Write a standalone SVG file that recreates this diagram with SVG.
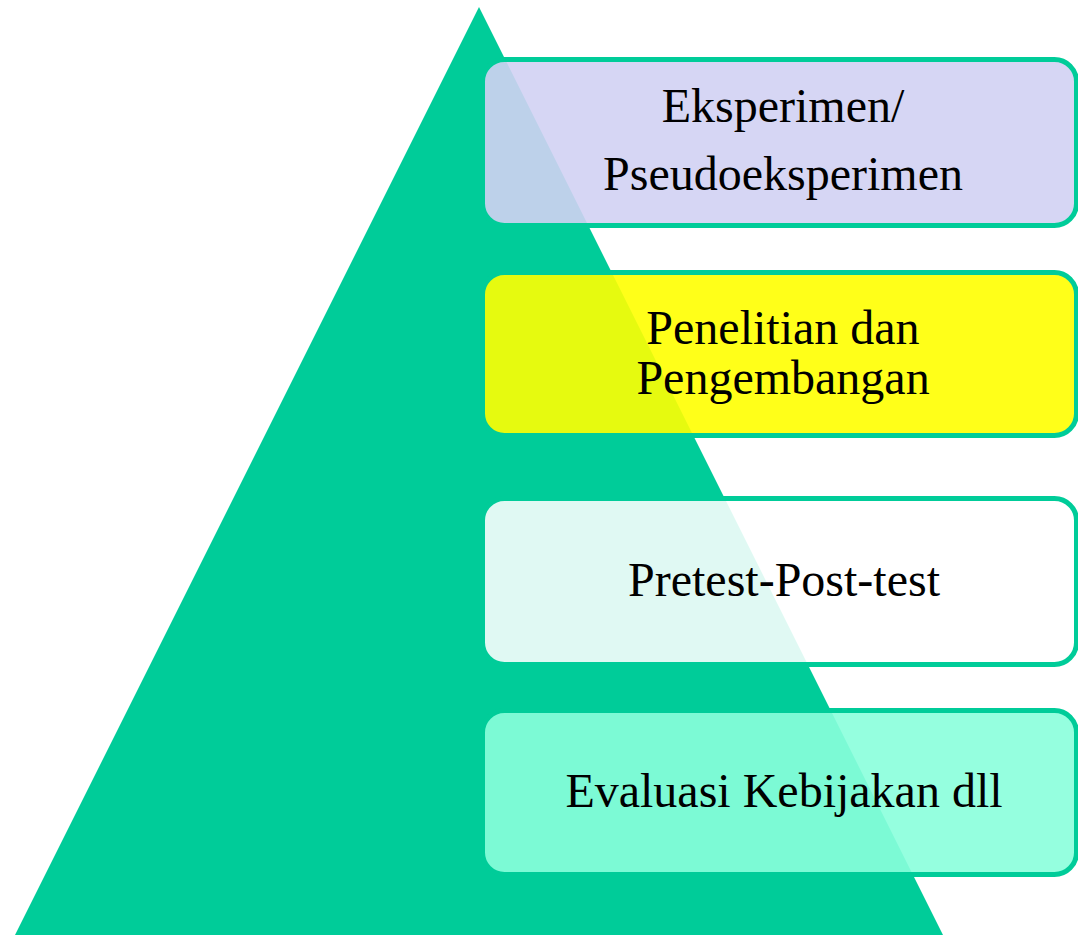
<svg xmlns="http://www.w3.org/2000/svg" width="1078" height="935" viewBox="0 0 1078 935">
  <style>
    .box { stroke: #00CC99; stroke-width: 5; }
    .lbl { font-family: "Liberation Serif", "Times New Roman", serif; font-size: 48px; fill: #000000; text-anchor: middle; }
  </style>
  <rect x="0" y="0" width="1078" height="935" fill="#FFFFFF"/>
  <g id="pyramid">
    <polygon points="479,7 943,935 15,935" fill="#00CC99"/>
  </g>
  <g id="connectors"></g>
  <g id="node-eksperimen">
    <rect class="box" x="482.5" y="59.5" width="594" height="166" rx="22" ry="22" fill="#D1D1F3" fill-opacity="0.9"/>
    <text class="lbl" x="783" y="122">Eksperimen/</text>
    <text class="lbl" x="783" y="190">Pseudoeksperimen</text>
  </g>
  <g id="node-penelitian">
    <rect class="box" x="482.5" y="272.5" width="594" height="163" rx="22" ry="22" fill="#FFFF00" fill-opacity="0.9"/>
    <text class="lbl" x="783" y="344">Penelitian dan</text>
    <text class="lbl" x="783" y="394">Pengembangan</text>
  </g>
  <g id="node-pretest">
    <rect class="box" x="482.5" y="498.5" width="594" height="166" rx="22" ry="22" fill="#FFFFFF" fill-opacity="0.88"/>
    <text class="lbl" x="784" y="596">Pretest-Post-test</text>
  </g>
  <g id="node-evaluasi">
    <rect class="box" x="482.5" y="710.5" width="594" height="164" rx="22" ry="22" fill="#8AFFDC" fill-opacity="0.9"/>
    <text class="lbl" x="784" y="807">Evaluasi Kebijakan dll</text>
  </g>
</svg>
